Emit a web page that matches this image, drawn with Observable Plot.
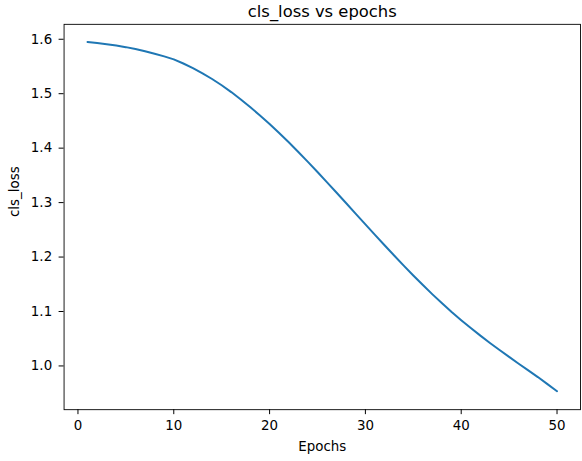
<!DOCTYPE html>
<html>
<head>
<meta charset="utf-8">
<script src="https://cdn.jsdelivr.net/npm/d3@7"></script>
<script src="https://cdn.jsdelivr.net/npm/@observablehq/plot@0.6"></script>
<style>
  html, body { margin: 0; padding: 0; background: #fff; width: 582px; height: 461px; overflow: hidden; }
  #chart svg { display: block; }
</style>
</head>
<body>
<div id="chart"></div>
<script>
const titleText = "cls_loss vs epochs";
const xLabel = "Epochs";
const yLabel = "cls_loss";
const epochs = d3.range(1, 51);
const clsLoss = [
  1.5950, 1.5930, 1.5910, 1.5885, 1.5855, 1.5820, 1.5780, 1.5735, 1.5685, 1.5630,
  1.5555, 1.5470, 1.5375, 1.5270, 1.5155, 1.5030, 1.4895, 1.4750, 1.4600, 1.4445,
  1.4280, 1.4108, 1.3930, 1.3747, 1.3561, 1.3372, 1.3181, 1.2988, 1.2794, 1.2600,
  1.2407, 1.2216, 1.2028, 1.1843, 1.1662, 1.1486, 1.1315, 1.1150, 1.0992, 1.0841,
  1.0696, 1.0557, 1.0423, 1.0293, 1.0166, 1.0041, 0.9918, 0.9796, 0.9666, 0.9535
];
const xTicks = [0, 10, 20, 30, 40, 50];
const yTicks = [1.0, 1.1, 1.2, 1.3, 1.4, 1.5, 1.6];

const data = epochs.map((e, i) => ({epoch: e, loss: clsLoss[i]}));
const font = "DejaVu Sans, sans-serif";

const chart = Plot.plot({
  width: 586,
  height: 461,
  marginTop: 24,
  marginBottom: 49,
  marginLeft: 64,
  marginRight: 2,
  style: {fontFamily: font, fontSize: "13.5px", color: "#000", background: "#fff", overflow: "visible"},
  x: {domain: [-1.45, 52.45]},
  y: {domain: [0.9197, 1.6274]},
  marks: [
    Plot.frame({stroke: "#000", strokeWidth: 0.9}),
    Plot.axisX({ticks: xTicks, tickFormat: d3.format("d"), tickSize: 5, tickPadding: 6, label: null, fontSize: 13.5}),
    Plot.axisY({ticks: yTicks, tickFormat: d3.format(".1f"), tickSize: 5, tickPadding: 7, label: null, fontSize: 13.5}),
    Plot.line(data, {x: "epoch", y: "loss", stroke: "#1f77b4", strokeWidth: 2, curve: "linear"}),
    Plot.text([titleText], {frameAnchor: "top", dy: -13, fontSize: 16.5, lineAnchor: "middle", fill: "#000"}),
    Plot.text([xLabel], {frameAnchor: "bottom", dy: 37, fontSize: 13.5, lineAnchor: "middle", fill: "#000"}),
    Plot.text([yLabel], {frameAnchor: "left", dx: -50, rotate: -90, fontSize: 13.5, lineAnchor: "middle", fill: "#000"})
  ]
});
document.getElementById("chart").appendChild(chart);
</script>
</body>
</html>
